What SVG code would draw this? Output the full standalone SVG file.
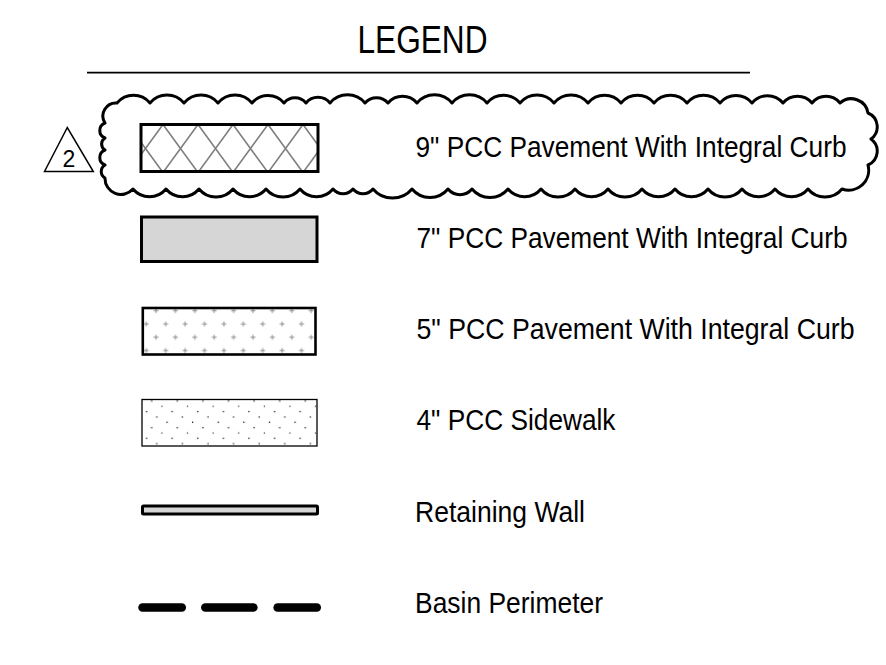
<svg xmlns="http://www.w3.org/2000/svg" width="886" height="665" viewBox="0 0 886 665">
  <style>
    .lbl { font-family: "Liberation Sans", Arial, sans-serif; font-size: 30px; fill: #000; }
    .box { stroke: #000; stroke-width: 3; }
    .hatch { stroke: #7f7f7f; stroke-width: 1.6; fill: none; }
  </style>
  <defs>
    <clipPath id="clip9">
      <rect x="141" y="124.5" width="177" height="47"/>
    </clipPath>
    <!-- plus-sign fill for 5" pavement -->
    <pattern id="plusFill" patternUnits="userSpaceOnUse" x="151.15" y="304" width="19.4" height="26.6">
      <path d="M2.35 6.7h5M4.85 4.2v5M12.05 20h5M14.55 17.5v5" stroke="#8c8c8c" stroke-width="1" fill="none"/>
    </pattern>
    <!-- stipple fill for sidewalk -->
    <pattern id="dotFill" patternUnits="userSpaceOnUse" x="149.7" y="398.3" width="25.6" height="26.65">
      <g fill="#000">
        <circle cx="2" cy="2.67" r="0.7"/>
        <circle cx="12.24" cy="8" r="0.7"/>
        <circle cx="22.48" cy="13.33" r="0.7"/>
        <circle cx="7.12" cy="18.66" r="0.7"/>
        <circle cx="17.36" cy="24" r="0.7"/>
      </g>
    </pattern>
  </defs>

  <rect width="886" height="665" fill="#fff"/>

  <!-- title -->
  <g id="title">
    <text x="357.5" y="53.3" font-family="Liberation Sans, Arial, sans-serif" font-size="39.5" textLength="130" lengthAdjust="spacingAndGlyphs">LEGEND</text>
    <line x1="87" y1="72.7" x2="750" y2="72.7" stroke="#000" stroke-width="1.8"/>
  </g>

  <!-- revision marker -->
  <g id="revision">
    <path fill="#fff" stroke="#000" stroke-width="3" stroke-linejoin="round" d="
      M105 123 A13 13 0 0 1 117 103
      A21.5 21.5 0 0 1 150 103 A22 22 0 0 1 184 103 A22 22 0 0 1 218 103 A22 22 0 0 1 252 103
      A21 21 0 0 1 284 103 A14.3 14.3 0 0 1 306 103 A15.6 15.6 0 0 1 330 103 A22.8 22.8 0 0 1 365 103
      A15 15 0 0 1 388 103 A19 19 0 0 1 417 103 A22.8 22.8 0 0 1 452 103 A22.8 22.8 0 0 1 487 103
      A21.5 21.5 0 0 1 520 103 A22 22 0 0 1 554 103 A22 22 0 0 1 588 103 A21.5 21.5 0 0 1 621 103
      A21.5 21.5 0 0 1 654 103 A21.5 21.5 0 0 1 687 103 A21.5 21.5 0 0 1 720 103 A21 21 0 0 1 752 103
      A20 20 0 0 1 783 103 A19 19 0 0 1 812 103 A18 18 0 0 1 840 103
      A17 17 0 0 1 868 113 A15 15 0 0 1 871 139 A15 15 0 0 1 868 165
      A20 20 0 0 1 842 189
      A22 22 0 0 1 808 189 A21.5 21.5 0 0 1 775 189 A21.5 21.5 0 0 1 742 189 A22 22 0 0 1 708 189
      A21.5 21.5 0 0 1 675 189 A21.5 21.5 0 0 1 642 189 A22 22 0 0 1 608 189 A21.5 21.5 0 0 1 575 189
      A22 22 0 0 1 541 189 A21.5 21.5 0 0 1 508 189 A23.4 23.4 0 0 1 472 189 A15.6 15.6 0 0 1 448 189
      A23.4 23.4 0 0 1 412 189 A25.4 25.4 0 0 1 373 189 A13 13 0 0 1 353 189 A13 13 0 0 1 333 189
      A21.5 21.5 0 0 1 300 189 A22 22 0 0 1 266 189 A21.5 21.5 0 0 1 233 189 A22 22 0 0 1 199 189
      A21.5 21.5 0 0 1 166 189 A21.5 21.5 0 0 1 133 189
      A16 16 0 0 1 105 178 A7.5 7.5 0 0 1 105 165 A8 8 0 0 1 105 150 A7 7 0 0 1 105 138 A8 8 0 0 1 105 123 Z"/>
    <polygon points="44.5,171.5 67.3,127.5 93.3,171.5" fill="none" stroke="#000" stroke-width="1.5" stroke-linejoin="miter"/>
    <text x="69" y="167" font-family="Liberation Sans, Arial, sans-serif" font-size="23" text-anchor="middle">2</text>
  </g>

  <!-- 9" pavement: cross hatch -->
  <g id="pcc9">
    <rect x="141" y="124.5" width="177" height="47" fill="#fff"/>
    <g class="hatch" clip-path="url(#clip9)">
      <path d="M128 124.5l35 48M163 124.5l35 48M198 124.5l35 48M233 124.5l35 48M268 124.5l35 48M303 124.5l35 48
               M163 124.5l-35 48M198 124.5l-35 48M233 124.5l-35 48M268 124.5l-35 48M303 124.5l-35 48M338 124.5l-35 48"/>
    </g>
    <rect class="box" x="141" y="124.5" width="177" height="47" fill="none"/>
    <text class="lbl" x="415.5" y="156.7" textLength="431" lengthAdjust="spacingAndGlyphs">9" PCC Pavement With Integral Curb</text>
  </g>

  <!-- 7" pavement: solid grey -->
  <g id="pcc7">
    <rect class="box" x="141.5" y="217" width="175.5" height="44.5" fill="#d6d6d6"/>
    <text class="lbl" x="416.5" y="247.7" textLength="431" lengthAdjust="spacingAndGlyphs">7" PCC Pavement With Integral Curb</text>
  </g>

  <!-- 5" pavement: plus signs -->
  <g id="pcc5">
    <rect x="142.8" y="308" width="172.7" height="46.5" fill="url(#plusFill)"/>
    <rect x="142.8" y="308" width="172.7" height="46.5" fill="none" stroke="#000" stroke-width="2.6"/>
    <text class="lbl" x="416.5" y="339.2" textLength="438" lengthAdjust="spacingAndGlyphs">5" PCC Pavement  With Integral Curb</text>
  </g>

  <!-- 4" sidewalk: stipple -->
  <g id="sidewalk">
    <rect x="142" y="399.5" width="175" height="46.5" fill="url(#dotFill)" stroke="#000" stroke-width="1.3"/>
    <text class="lbl" x="416.5" y="430.4" textLength="199" lengthAdjust="spacingAndGlyphs">4" PCC Sidewalk</text>
  </g>

  <!-- retaining wall -->
  <g id="retaining-wall">
    <rect x="142.5" y="506" width="175" height="8" rx="1" fill="#d6d6d6" stroke="#000" stroke-width="3"/>
    <text class="lbl" x="415" y="521.7" textLength="170" lengthAdjust="spacingAndGlyphs">Retaining Wall</text>
  </g>

  <!-- basin perimeter -->
  <g id="basin-perimeter">
    <g stroke="#000" stroke-width="8.5" stroke-linecap="round">
      <line x1="142.5" y1="607.5" x2="181.8" y2="607.5"/>
      <line x1="205.3" y1="607.5" x2="253.4" y2="607.5"/>
      <line x1="277.6" y1="607.5" x2="316.8" y2="607.5"/>
    </g>
    <text class="lbl" x="415" y="613" textLength="188" lengthAdjust="spacingAndGlyphs">Basin Perimeter</text>
  </g>
</svg>
